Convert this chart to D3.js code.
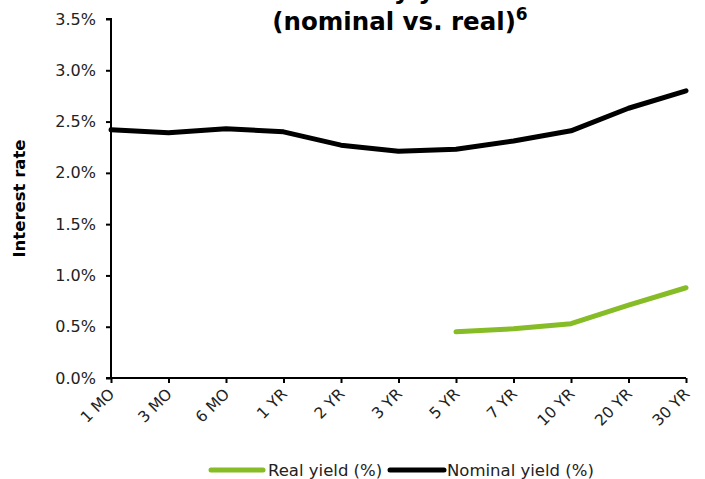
<!DOCTYPE html>
<html>
<head>
<meta charset="utf-8">
<script src="https://cdn.jsdelivr.net/npm/d3@7"></script>
<style>
  html, body { margin: 0; padding: 0; background: #fff; }
  svg { display: block; font-family: "DejaVu Sans", Verdana, sans-serif; }
</style>
</head>
<body>
<svg id="chart" width="705" height="479"></svg>
<script>
// Yield curve maturities and yields (percent)
const maturities = ["1 MO", "3 MO", "6 MO", "1 YR", "2 YR", "3 YR", "5 YR", "7 YR", "10 YR", "20 YR", "30 YR"];
const nominalYield = [2.42, 2.39, 2.43, 2.40, 2.27, 2.21, 2.23, 2.31, 2.41, 2.63, 2.80];
const realYield = [null, null, null, null, null, null, 0.45, 0.48, 0.53, 0.71, 0.88];
const yTicks = [0, 0.5, 1.0, 1.5, 2.0, 2.5, 3.0, 3.5];
const titleLines = ["U.S. Treasury yield curve", "(nominal vs. real)"];
const seriesNames = ["Real yield (%)", "Nominal yield (%)"];
const seriesColors = ["#86bc25", "#000000"];

const svg = d3.select("#chart");
const margin = { left: 111, right: 19, top: 19, bottom: 101 };
const width = 705, height = 479;

const x = d3.scalePoint().domain(maturities).range([margin.left, width - margin.right]);
const y = d3.scaleLinear().domain([0, 3.5]).range([height - margin.bottom, margin.top]);

// Title (first line sits mostly above the visible area)
const title = svg.append("text")
  .attr("text-anchor", "middle")
  .attr("font-weight", "bold")
  .attr("font-size", 24.5)
  .attr("fill", "#000");
title.append("tspan").attr("x", 398).attr("y", -1).text(titleLines[0]);
title.append("tspan").attr("x", 400).attr("y", 30).text(titleLines[1]);
title.append("tspan").attr("font-size", 17).attr("dx", 0).attr("dy", -10).text("6");

// Y axis
const yAxis = svg.append("g")
  .attr("transform", `translate(${margin.left},0)`)
  .call(d3.axisLeft(y).tickValues(yTicks).tickSize(5).tickPadding(10)
    .tickFormat(d => d.toFixed(1) + "%"));
yAxis.selectAll("path, line").attr("stroke", "#000").attr("stroke-width", 2);
yAxis.select(".domain").attr("d", `M-5,${y(3.5)}H0V${y(0)}H-5`);
yAxis.selectAll("text").attr("font-size", 16).attr("fill", "#222")
  .attr("font-family", "DejaVu Sans, Verdana, sans-serif");

// X axis
const xAxis = svg.append("g")
  .attr("transform", `translate(0,${y(0)})`)
  .call(d3.axisBottom(x).tickSize(5).tickSizeOuter(0));
xAxis.selectAll("path, line").attr("stroke", "#000").attr("stroke-width", 2);
xAxis.select(".domain").attr("d", `M${margin.left},0H${width - margin.right}`);
xAxis.selectAll("text")
  .attr("font-size", 15.5).attr("fill", "#222")
  .attr("font-family", "DejaVu Sans, Verdana, sans-serif")
  .attr("text-anchor", "end")
  .attr("dy", null)
  .attr("y", 0)
  .attr("transform", "translate(4,17) rotate(-45)");

// Y axis label
svg.append("text")
  .attr("transform", `translate(25,${(y(0) + y(3.5)) / 2}) rotate(-90)`)
  .attr("text-anchor", "middle")
  .attr("font-weight", "bold")
  .attr("font-size", 16.5)
  .attr("fill", "#000")
  .text("Interest rate");

// Series lines
const line = d3.line()
  .defined(d => d.v !== null)
  .x(d => x(d.m))
  .y(d => y(d.v));

const series = [
  { values: realYield, color: seriesColors[0] },
  { values: nominalYield, color: seriesColors[1] }
];
series.forEach(s => {
  svg.append("path")
    .datum(maturities.map((m, i) => ({ m, v: s.values[i] })))
    .attr("fill", "none")
    .attr("stroke", s.color)
    .attr("stroke-width", 5)
    .attr("stroke-linejoin", "round")
    .attr("stroke-linecap", "round")
    .attr("d", line);
});

// Legend
const legend = svg.append("g").attr("font-size", 16.5);
const legendItems = [
  { x1: 211, x2: 263, tx: 268 },
  { x1: 390, x2: 444, tx: 447 }
];
legendItems.forEach((it, i) => {
  legend.append("line")
    .attr("x1", it.x1).attr("x2", it.x2)
    .attr("y1", 470).attr("y2", 470)
    .attr("stroke", seriesColors[i]).attr("stroke-width", 5)
    .attr("stroke-linecap", "round");
  legend.append("text")
    .attr("x", it.tx).attr("y", 476)
    .attr("fill", "#222")
    .text(seriesNames[i]);
});
</script>
</body>
</html>
